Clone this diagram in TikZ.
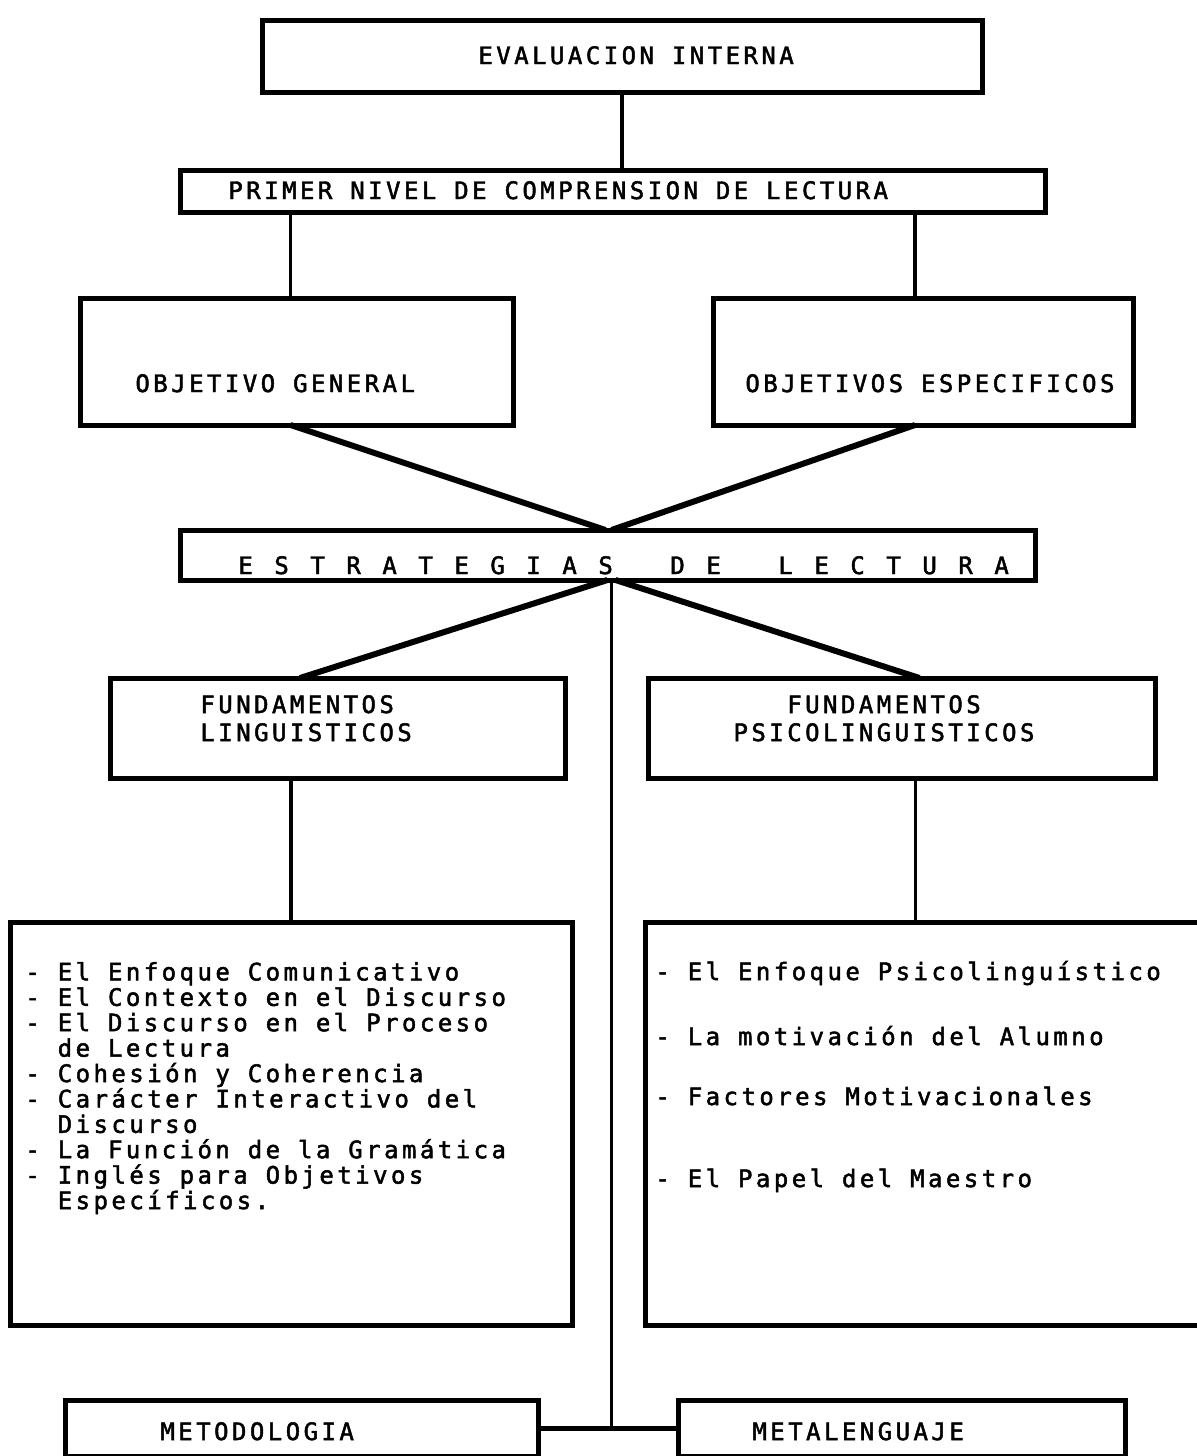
\documentclass[tikz,border=0pt]{standalone}
\usepackage{fontspec}
\newfontfamily\tw[LetterSpace=14.4, FakeBold=2]{DejaVu Sans Mono}
\newcommand\lbx[2]{\makebox[#1][l]{#2}}
\newcommand\spq[1]{\makebox[18pt][l]{#1}}
\begin{document}
\begin{tikzpicture}[x=0.5pt,y=-0.5pt,
  box/.style n args={2}{draw, line width=2.5pt, inner sep=0pt, outer sep=0pt,
      minimum width=#1*0.5pt, minimum height=#2*0.5pt},
  txt/.style={font=\tw\fontsize{12}{12.7}\selectfont, inner sep=0pt, anchor=base west, align=left},
  thin/.style={line width=1.6pt},
  thick/.style={line width=3pt}]
\useasboundingbox (0,0) rectangle (1197,1456);
\clip (0,0) rectangle (1197,1456);
% boxes
\node[box={720}{72}]  (eval)   at (622,56) {};
\node[box={865}{42}]  (primer) at (612.5,191) {};
\node[box={433}{127}] (objg)   at (296.5,361.5) {};
\node[box={420}{127}] (obje)   at (923,361.5) {};
\node[box={855}{50}]  (estr)   at (607.5,555) {};
\node[box={455}{100}] (fl)     at (337.5,728) {};
\node[box={507}{100}] (fp)     at (901.5,728) {};
\node[box={562}{403}] (ll)     at (291,1123.5) {};
\node[box={570}{403}] (rl)     at (930,1123.5) {};
\node[box={473}{56}]  (met)    at (301.5,1428) {};
\node[box={447}{56}]  (mleng)  at (901.5,1428) {};
% texts (multi-line nodes: base = last line)
\node[txt] (evalT)   at (478,64)  {EVALUACION INTERNA};
\node[txt] (primerT) at (228,199) {PRIMER NIVEL DE COMPRENSION DE LECTURA};
\node[txt] (objgT)   at (135,392) {OBJETIVO GENERAL};
\node[txt] (objeT)   at (745,392) {OBJETIVOS ESPECIFICOS};
\node[txt] (estrT)   at (238,574) {\spq{E}\spq{S}\spq{T}\spq{R}\spq{A}\spq{T}\spq{E}\spq{G}\spq{I}\spq{A}\lbx{36pt}{S}\spq{D}\lbx{36pt}{E}\spq{L}\spq{E}\spq{C}\spq{T}\spq{U}\spq{R}A};
\node[txt] (flT)     at (200,741) {FUNDAMENTOS\\[1.3pt]LINGUISTICOS};
\node[txt, anchor=base, align=center] (fpT) at (884,741) {FUNDAMENTOS\\[1.3pt]PSICOLINGUISTICOS};
\node[txt] (llT) at (25,1209) {- El Enfoque Comunicativo\\
- El Contexto en el Discurso\\
- El Discurso en el Proceso\\
\hphantom{- }de Lectura\\
- Cohesión y Coherencia\\
- Carácter Interactivo del\\
\hphantom{- }Discurso\\
- La Función de la Gramática\\
- Inglés para Objetivos\\
\hphantom{- }Específicos.};
\node[txt] (rl1) at (655,980)  {- El Enfoque Psicolinguístico};
\node[txt] (rl2) at (655,1045) {- La motivación del Alumno};
\node[txt] (rl3) at (655,1105) {- Factores Motivacionales};
\node[txt] (rl4) at (655,1187) {- El Papel del Maestro};
\node[txt] (metT)   at (160,1440) {METODOLOGIA};
\node[txt] (mlengT) at (752,1440) {METALENGUAJE};
% connectors
\draw[thin] (eval.south) -- (eval.south |- primer.north);
\draw[thin] ([xshift=-3pt]objg.north |- primer.south) -- ([xshift=-3pt]objg.north);
\draw[thin] ([xshift=-4pt]obje.north |- primer.south) -- ([xshift=-4pt]obje.north);
\draw[thick] ([xshift=-3pt]objg.south) -- ([xshift=-1pt]estr.north);
\draw[thick] ([xshift=-4pt]obje.south) -- ([xshift=2pt]estr.north);
\draw[thick] (estr.south) -- ([xshift=-18.75pt]fl.north);
\draw[thick] ([xshift=4pt]estr.south) -- ([xshift=9pt]fp.north);
\draw[thin] (ll.north) -- (ll.north |- fl.south);
\draw[thin] ([xshift=7pt]fp.south) -- ([xshift=7pt]fp.south |- rl.north);
\draw[thin] ([xshift=2pt]estr.south) -- ([xshift=2pt]estr.south |- met.east);
\draw[line width=2.5pt] (met.east) -- (mleng.west);
\end{tikzpicture}
\end{document}
